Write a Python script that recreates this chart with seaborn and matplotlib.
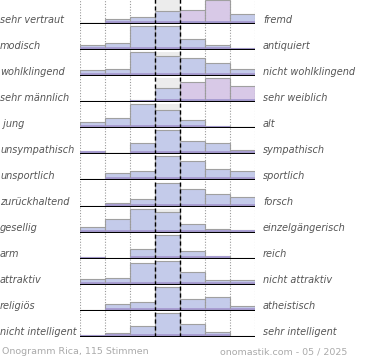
import numpy as np
import pandas as pd
import matplotlib
matplotlib.use("Agg")
import matplotlib.pyplot as plt
import seaborn as sns

# Onogramm data (votes per scale step, 7 steps, 115 votes)
left_labels = ["sehr vertraut", "modisch", "wohlklingend", "sehr männlich", " jung",
               "unsympathisch", "unsportlich", "zurückhaltend", "gesellig", "arm",
               "attraktiv", "religiös", "nicht intelligent"]
right_labels = ["fremd", "antiquiert", "nicht wohlklingend", "sehr weiblich", "alt",
                "sympathisch", "sportlich", "forsch", "einzelgängerisch", "reich",
                "nicht attraktiv", "atheistisch", "sehr intelligent"]
votes = [
    [2, 8, 11, 20, 22, 36, 16],
    [8, 10, 35, 35, 16, 8, 3],
    [8, 9, 28, 24, 21, 16, 9],
    [0, 1, 4, 21, 30, 35, 24],
    [10, 17, 38, 29, 14, 4, 3],
    [5, 3, 19, 40, 22, 19, 7],
    [0, 11, 13, 34, 28, 16, 13],
    [0, 6, 12, 36, 27, 19, 15],
    [8, 20, 35, 30, 13, 5, 4],
    [4, 0, 25, 61, 18, 7, 0],
    [8, 10, 31, 35, 18, 7, 6],
    [0, 11, 15, 40, 19, 22, 8],
    [3, 7, 21, 49, 26, 9, 0],
]
steps = list(range(7))
footer_left = "Onogramm Rica, 115 Stimmen"
footer_right = "onomastik.com - 05 / 2025"

# rows where the right side is tinted pink
pink_bars = {0: [4, 5], 3: [4, 5, 6]}

sns.set_style("white")
W, H = 370, 360
fig = plt.figure(figsize=(W / 100, H / 100), dpi=100)

x0, x1 = 80, 255
first_base, pitch = 24.3, 26.03
bar_px = 24.0

for i, row in enumerate(votes):
    base = first_base + pitch * i
    ax = fig.add_axes([x0 / W, 1 - base / H, (x1 - x0) / W, pitch / H])
    vmax = max(row)
    top = vmax * pitch / bar_px
    df = pd.DataFrame({"step": steps, "votes": row})

    # grey highlight of the neutral column
    ax.bar(3, vmax, width=1, color="#ececec", zorder=0.5, linewidth=0)

    sns.barplot(data=df, x="step", y="votes", ax=ax, width=1, color="#c4cbea",
                saturation=1, edgecolor="#a0a0a0", linewidth=0.8, zorder=1)
    for j, p in enumerate(ax.patches[1:]):
        if j in pink_bars.get(i, []):
            p.set_facecolor("#d8c9e7")

    # darker purple foot of each bar
    strip = 3.0 * top / pitch
    df["foot"] = np.minimum(df["votes"], strip)
    sns.barplot(data=df, x="step", y="foot", ax=ax, width=1, color="#a99ed2",
                saturation=1, linewidth=0, zorder=1.5)

    for xv in [-0.5, 0.5, 1.5, 4.5, 5.5, 6.5]:
        ax.axvline(xv, color="#9a9a9a", ls=(0, (1, 1.5)), lw=0.8, zorder=3)
    for xv in [2.5, 3.5]:
        ax.axvline(xv, color="black", ls=(0, (3, 2)), lw=1.0, zorder=5)
    ax.axhline(0, color="black", lw=1.5, zorder=4)

    ax.set_xlim(-0.5, 6.5)
    ax.set_ylim(0, top)
    ax.axis("off")

    ty = 1 - (base - 4.5) / H
    fig.text(0 / W, ty, left_labels[i], ha="left", va="center", fontsize=7,
             style="italic", color="#555555")
    fig.text(263 / W, ty, right_labels[i], ha="left", va="center", fontsize=7,
             style="italic", color="#555555")

fig.text(2 / W, 1 - 352 / H, footer_left, ha="left", va="center", fontsize=6.8,
         color="#aaaaaa")
fig.text(220 / W, 1 - 352 / H, footer_right, ha="left", va="center", fontsize=6.8,
         color="#aaaaaa")

fig.savefig("out.png", dpi=100)
